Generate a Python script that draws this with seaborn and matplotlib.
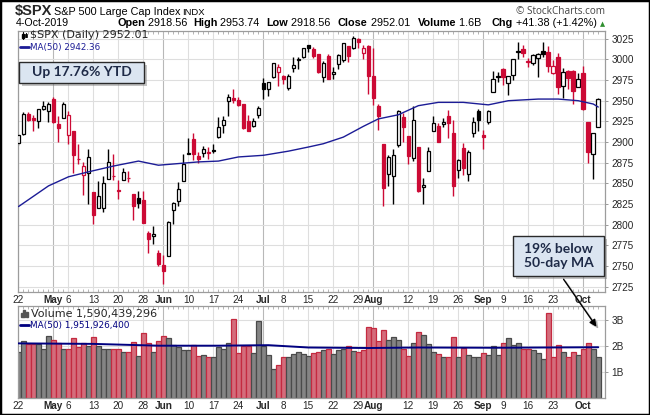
import numpy as np
import pandas as pd
import matplotlib
matplotlib.use("Agg")
import matplotlib.pyplot as plt
from matplotlib.patches import Rectangle, FancyArrowPatch
from matplotlib.lines import Line2D
import seaborn as sns

# --- style ---
sns.set_style("white")
plt.rcParams["font.family"] = ["Liberation Sans", "DejaVu Sans"]

# --- data: $SPX daily, 22-Apr-2019 .. 4-Oct-2019 ---
dates = ["04-22", "04-23", "04-24", "04-25", "04-26", "04-29", "04-30",
         "05-01", "05-02", "05-03", "05-06", "05-07", "05-08", "05-09", "05-10", "05-13", "05-14",
         "05-15", "05-16", "05-17", "05-20", "05-21", "05-22", "05-23", "05-24", "05-28", "05-29",
         "05-30", "05-31",
         "06-03", "06-04", "06-05", "06-06", "06-07", "06-10", "06-11", "06-12", "06-13", "06-14",
         "06-17", "06-18", "06-19", "06-20", "06-21", "06-24", "06-25", "06-26", "06-27", "06-28",
         "07-01", "07-02", "07-03", "07-05", "07-08", "07-09", "07-10", "07-11", "07-12", "07-15",
         "07-16", "07-17", "07-18", "07-19", "07-22", "07-23", "07-24", "07-25", "07-26", "07-29",
         "07-30", "07-31",
         "08-01", "08-02", "08-05", "08-06", "08-07", "08-08", "08-09", "08-12", "08-13", "08-14",
         "08-15", "08-16", "08-19", "08-20", "08-21", "08-22", "08-23", "08-26", "08-27", "08-28",
         "08-29", "08-30",
         "09-03", "09-04", "09-05", "09-06", "09-09", "09-10", "09-11", "09-12", "09-13", "09-16",
         "09-17", "09-18", "09-19", "09-20", "09-23", "09-24", "09-25", "09-26", "09-27", "09-30",
         "10-01", "10-02", "10-03", "10-04"]

opens = [2898.78, 2909.99, 2934.00, 2928.99, 2925.81, 2940.58, 2937.14,
         2952.33, 2922.16, 2929.21, 2908.89, 2913.03, 2879.61, 2859.84, 2863.10, 2840.19, 2820.12,
         2820.38, 2855.80, 2858.60, 2841.94, 2854.02, 2856.06, 2836.70, 2832.41, 2830.03, 2790.25,
         2786.94, 2766.15,
         2751.53, 2762.64, 2818.09, 2828.51, 2852.87, 2885.83, 2903.27, 2882.73, 2886.24, 2886.82,
         2889.75, 2906.71, 2920.55, 2949.60, 2952.71, 2951.42, 2945.78, 2926.07, 2919.66, 2932.94,
         2971.41, 2964.66, 2978.08, 2984.25, 2979.77, 2965.52, 2989.30, 2999.62, 3003.36, 3017.80,
         3012.13, 3006.46, 2978.87, 3004.26, 2981.93, 2994.74, 2998.77, 3016.26, 3013.25, 3024.47,
         3007.66, 3016.22,
         2980.32, 2943.90, 2898.07, 2861.18, 2858.65, 2896.21, 2930.51, 2907.07, 2880.72, 2894.15,
         2846.20, 2864.74, 2913.48, 2919.01, 2922.04, 2930.94, 2911.07, 2866.70, 2893.14, 2861.28,
         2910.37, 2937.09,
         2909.01, 2924.67, 2960.60, 2980.33, 2988.43, 2971.01, 2981.41, 3009.08, 3012.21, 2996.41,
         2995.67, 3001.50, 3010.36, 3008.42, 2983.50, 3002.43, 2968.35, 2985.73, 2985.47, 2967.07,
         2983.69, 2924.78, 2885.38, 2918.56]

highs = [2909.51, 2936.31, 2936.83, 2933.10, 2939.88, 2949.52, 2948.22,
         2954.13, 2931.68, 2947.85, 2937.32, 2913.03, 2897.96, 2875.97, 2891.31, 2840.19, 2852.54,
         2858.68, 2892.15, 2885.48, 2853.86, 2868.88, 2865.47, 2836.70, 2841.36, 2840.51, 2792.03,
         2799.00, 2768.98,
         2763.07, 2804.49, 2827.28, 2852.10, 2884.97, 2904.77, 2910.61, 2888.57, 2895.24, 2894.45,
         2897.27, 2930.79, 2931.74, 2958.06, 2964.15, 2954.92, 2946.52, 2932.59, 2929.30, 2943.98,
         2977.93, 2973.21, 2995.84, 2994.03, 2980.76, 2981.90, 3002.98, 3002.33, 3013.92, 3017.80,
         3015.02, 3006.46, 2998.28, 3006.02, 2990.71, 3005.90, 3019.59, 3016.31, 3027.98, 3025.61,
         3017.19, 3017.40,
         3013.59, 2945.50, 2898.07, 2884.40, 2892.17, 2938.72, 2935.75, 2907.58, 2943.31, 2894.15,
         2856.67, 2893.63, 2931.00, 2923.63, 2928.73, 2939.08, 2927.01, 2879.27, 2898.79, 2890.03,
         2930.50, 2940.43,
         2914.39, 2938.84, 2985.86, 2985.03, 2989.43, 2979.39, 3000.93, 3020.74, 3017.33, 3002.19,
         3006.21, 3007.83, 3021.19, 3016.37, 2999.15, 3007.98, 2989.82, 2987.28, 2987.31, 2983.85,
         2992.53, 2924.78, 2911.13, 2953.74]

lows = [2896.35, 2908.53, 2926.05, 2912.84, 2917.56, 2939.35, 2924.11,
        2923.36, 2900.50, 2929.21, 2898.21, 2862.60, 2873.28, 2836.40, 2825.39, 2801.43, 2820.12,
        2815.08, 2855.80, 2854.23, 2831.29, 2854.02, 2851.11, 2805.49, 2820.19, 2801.58, 2766.06,
        2776.74, 2750.52,
        2728.81, 2762.64, 2800.92, 2822.45, 2852.87, 2885.51, 2878.53, 2874.68, 2881.99, 2879.62,
        2887.30, 2905.44, 2911.43, 2931.50, 2946.87, 2944.05, 2916.01, 2912.99, 2918.57, 2929.05,
        2952.22, 2955.92, 2977.96, 2967.97, 2970.09, 2963.44, 2984.62, 2988.80, 3001.87, 3008.77,
        3001.15, 2983.92, 2973.09, 2975.86, 2976.65, 2988.56, 2996.82, 2997.24, 3012.59, 3014.30,
        3000.94, 2958.08,
        2945.23, 2914.11, 2822.12, 2847.42, 2825.71, 2894.47, 2900.15, 2873.14, 2877.05, 2839.64,
        2825.51, 2864.74, 2913.48, 2899.60, 2917.91, 2904.51, 2834.97, 2856.00, 2860.59, 2853.05,
        2905.67, 2913.32,
        2891.85, 2921.86, 2960.60, 2972.51, 2969.39, 2957.01, 2975.31, 3000.92, 3002.90, 2990.67,
        2993.73, 2978.57, 3003.16, 2984.68, 2982.23, 2957.73, 2952.86, 2963.71, 2945.53, 2967.07,
        2938.70, 2874.93, 2855.94, 2918.56]

closes = [2907.97, 2933.68, 2927.25, 2926.17, 2939.88, 2943.03, 2945.83,
          2923.73, 2917.52, 2945.64, 2932.47, 2884.05, 2879.42, 2870.72, 2881.40, 2811.87, 2834.41,
          2850.96, 2876.32, 2859.53, 2840.23, 2864.36, 2856.27, 2822.24, 2826.06, 2802.39, 2783.02,
          2788.86, 2752.06,
          2744.45, 2803.27, 2826.15, 2843.49, 2873.34, 2886.73, 2885.72, 2879.84, 2891.64, 2886.98,
          2889.67, 2917.75, 2926.46, 2954.18, 2950.46, 2945.35, 2917.38, 2913.78, 2924.92, 2941.76,
          2964.33, 2973.01, 2995.82, 2990.41, 2975.95, 2979.63, 2993.07, 2999.91, 3013.77, 3014.30,
          3004.04, 2984.42, 2995.11, 2976.61, 2985.03, 3005.47, 3019.56, 3003.67, 3025.86, 3020.97,
          3013.18, 2980.38,
          2953.56, 2932.05, 2844.74, 2881.77, 2883.98, 2938.09, 2918.65, 2882.70, 2926.32, 2840.60,
          2847.60, 2888.68, 2923.65, 2900.51, 2924.43, 2922.95, 2847.11, 2878.38, 2869.16, 2887.94,
          2924.58, 2926.46,
          2906.27, 2937.78, 2976.00, 2978.71, 2978.43, 2979.39, 3000.93, 3009.57, 3007.39, 2997.96,
          3005.70, 3006.73, 3006.79, 2992.07, 2991.78, 2966.60, 2984.87, 2977.62, 2961.79, 2976.74,
          2940.25, 2887.61, 2910.63, 2952.01]
prev_close = 2905.03  # 18-Apr close, colours the first candle

# volume in billions
volume_b = [1.76, 2.18, 2.09, 2.09, 2.09, 1.87, 2.38,
            2.22, 2.13, 1.87, 1.87, 2.29, 1.94, 2.10, 2.01, 2.33, 1.98, 1.87, 1.90, 1.87, 1.89,
            1.78, 1.78, 2.16, 1.60, 2.49, 2.11, 1.75, 2.18,
            2.38, 2.29, 2.03, 1.94, 1.83, 1.83, 2.03, 1.60, 1.65, 1.56, 1.56, 1.97, 1.87, 2.10,
            3.03, 1.71, 2.01, 2.01, 1.71, 2.95,
            2.01, 1.63, 1.09, 1.28, 1.56, 1.58, 1.69, 1.75, 1.67, 1.60, 1.71, 1.75, 1.84, 1.87,
            1.69, 1.85, 1.90, 1.98, 1.79, 1.75, 1.84, 2.72,
            2.68, 2.18, 2.60, 2.22, 2.33, 2.22, 1.87, 1.60, 2.10, 2.53, 2.42, 2.07, 1.75, 1.67,
            1.56, 1.56, 2.33, 1.58, 1.93, 1.63, 1.58, 1.58,
            1.71, 1.63, 1.98, 1.63, 2.10, 2.29, 2.02, 2.10, 1.87, 1.87, 1.83, 1.71, 1.50, 3.26,
            1.56, 2.02, 1.75, 1.56, 1.75, 1.63,
            1.87, 2.13, 1.87, 1.59]

# 50-day moving averages at these dates
ma_dates = ["04-22", "04-30", "05-06", "05-10", "05-17", "05-24", "05-31", "06-06", "06-12",
            "06-18", "06-24", "07-01", "07-09", "07-15", "07-18", "07-24", "07-30", "08-02",
            "08-08", "08-14", "08-20", "08-27", "09-04", "09-10", "09-18", "09-24", "09-30",
            "10-03", "10-04"]
ma_price = [2822, 2847, 2858, 2864, 2871, 2877, 2872, 2874, 2876, 2877, 2882, 2884, 2889,
            2894, 2898, 2906, 2919, 2928, 2933, 2944, 2948, 2948, 2945, 2950, 2952, 2952,
            2950, 2946, 2942.36]
vma_dates = ["04-22", "05-13", "05-31", "06-18", "07-02", "07-15", "07-31", "08-14", "09-05",
             "09-19", "10-04"]
vma_vals = [2.10, 2.08, 2.01, 2.01, 2.03, 1.94, 1.92, 1.94, 1.93, 1.94, 1.95]

tick_dates = ["04-22", "05-01", "05-06", "05-13", "05-20", "05-28", "06-03", "06-10", "06-17",
              "06-24", "07-01", "07-08", "07-15", "07-22", "07-29", "08-01", "08-12", "08-19",
              "08-26", "09-03", "09-09", "09-16", "09-23", "10-01"]
tick_labels = ["22", "May", "6", "13", "20", "28", "Jun", "10", "17", "24", "Jul", "8", "15",
               "22", "29", "Aug", "12", "19", "26", "Sep", "9", "16", "23", "Oct"]
price_ticks = [2725, 2750, 2775, 2800, 2825, 2850, 2875, 2900, 2925, 2950, 2975, 3000, 3025]
vol_ticks = [1, 2, 3]
vol_tick_labels = ["1B", "2B", "3B"]

# --- frame ---
df = pd.DataFrame({"date": dates, "open": opens, "high": highs, "low": lows,
                   "close": closes, "vol": volume_b})
df["x"] = np.arange(len(df))
df["prev"] = [prev_close] + closes[:-1]
df["down"] = df["close"] < df["prev"]
df["hollow"] = df["close"] > df["open"]
pos = {d: i for i, d in enumerate(dates)}

RED = "#cc0a35"
NAVY = "#1c1c96"
W, H = 650, 415

def fx(p):
    return p / W

def fy(p):
    return 1 - p / H

fig = plt.figure(figsize=(W / 100, H / 100), dpi=100)
ax = fig.add_axes([fx(17.5), fy(292), (605 - 17.5) / W, (292 - 31) / H])
axv = fig.add_axes([fx(17.5), fy(397.5), (605 - 17.5) / W, (397.5 - 306) / H])

tick_pos = [pos[d] for d in tick_dates]

# grid
for a in (ax, axv):
    for p, lab in zip(tick_pos, tick_labels):
        a.axvline(p, color="#b8b8b8" if lab.isalpha() else "#dedede", lw=0.8, zorder=0)
for v in price_ticks:
    ax.axhline(v, color="#dedede", lw=0.8, zorder=0)
for v in vol_ticks:
    axv.axhline(v, color="#dedede", lw=0.8, zorder=0)

# --- candles ---
edge = np.where(df["down"], RED, "black")
face = np.where(df["hollow"], "white", edge)
body_lo = np.minimum(df["open"], df["close"])
body_h = np.maximum((df["close"] - df["open"]).abs(), 0.6)
ax.vlines(df["x"], df["low"], df["high"], colors=edge, lw=1.0, zorder=2)
ax.bar(df["x"], body_h, bottom=body_lo, width=0.72, color=face, edgecolor=edge,
       linewidth=0.9, zorder=3)

sns.lineplot(x=[pos[d] for d in ma_dates], y=ma_price, ax=ax, color=NAVY, lw=1.0, zorder=4)

# --- volume ---
vfill = np.where(df["down"], "#d46c7b", "#848484")
vedge = np.where(df["down"], "#c42a40", "#4a4a4a")
axv.bar(df["x"], df["vol"], width=0.92, color=vfill, edgecolor=vedge, linewidth=0.9, zorder=2)
sns.lineplot(x=[pos[d] for d in vma_dates], y=vma_vals, ax=axv, color="#000080", lw=1.4, zorder=4)

# --- axes ---
for a in (ax, axv):
    a.set_xlim(-0.2, 117.35)
    a.set_xticks(tick_pos)
    a.set_xticklabels(tick_labels)
    for t, lab in zip(a.get_xticklabels(), tick_labels):
        if lab.isalpha():
            t.set_fontweight("bold")
            t.set_fontsize(7.5)
    a.set_xticks(df["x"], minor=True)
    a.tick_params(axis="x", which="major", length=0, pad=2.5, labelsize=7.2)
    a.tick_params(axis="x", which="minor", direction="in", length=2, width=0.6,
                  color="#a8a8a8", top=True, bottom=True)
    a.yaxis.tick_right()
    a.tick_params(axis="y", length=2.5, width=0.6, color="#888888", pad=2, labelsize=7.2)
    a.set_xlabel("")
    a.set_ylabel("")
    for s in a.spines.values():
        s.set_color("#9c9c9c")
        s.set_linewidth(0.9)

ax.set_ylim(2718.7, 3034.3)
ax.set_yticks(price_ticks)
axv.set_ylim(0, 3.55)
axv.set_yticks(vol_ticks)
axv.set_yticklabels(vol_tick_labels)

# --- header ---
fig.canvas.draw()
rend = fig.canvas.get_renderer()

def seq(x, y, parts, size=7.8, color="black", family=None):
    for s, bold in parts:
        t = fig.text(fx(x), fy(y), s, fontsize=size, fontweight="bold" if bold else "normal",
                     color=color, va="baseline", ha="left",
                     family=family if family else ["Liberation Sans", "DejaVu Sans"])
        x += t.get_window_extent(rend).width
    return x

fig.text(fx(15), fy(14.7), r"\$SPX", fontsize=10.5, fontweight="bold", va="baseline")
seq(54, 14.7, [("S&P 500 Large Cap Index", False)], size=7.8)
seq(182, 14.7, [("INDX", False)], size=6.8)
fig.text(fx(605), fy(13.5), "\u00a9 StockCharts.com", fontsize=7.2, color="#444444",
         ha="right", va="baseline", family=["Open Sans", "DejaVu Sans"])

seq(16, 26.5, [("4-Oct-2019", False)], size=7.7)
seq(117, 26.5, [("Open", True), (" 2918.56", False)])
seq(193, 26.5, [("High", True), (" 2953.74", False)])
seq(266, 26.5, [("Low", True), (" 2918.56", False)])
seq(338, 26.5, [("Close", True), (" 2952.01", False)])
seq(418, 26.5, [("Volume", True), (" 1.6B", False)])
seq(492, 26.5, [("Chg", True), (" +41.38 (+1.42%)", False)])
fig.text(fx(603), fy(26), "\u25b2", fontsize=4.8, color="#2f8f2f", ha="center", va="baseline",
         family="DejaVu Sans")

# --- panel legends ---
for xx, y0, y1, c in [(22.5, 32, 39.5, "black"), (25.5, 33.5, 37.5, "black")]:
    fig.add_artist(Line2D([fx(xx), fx(xx)], [fy(y0), fy(y1)], color=c, lw=0.8))
fig.add_artist(Rectangle((fx(21.5), fy(38)), 2 / W, 4 / H, color="black"))
fig.add_artist(Rectangle((fx(24.5), fy(37)), 2 / W, 3 / H, facecolor="white", edgecolor="black", lw=0.6))
fig.text(fx(30), fy(38.5), r"\$SPX (Daily) 2952.01", fontsize=8.0, va="baseline",
         family="DejaVu Sans")
fig.add_artist(Line2D([fx(20), fx(28.5)], [fy(47), fy(47)], color=NAVY, lw=2))
fig.text(fx(30), fy(50), "MA(50) 2942.36", fontsize=6.3, color=NAVY, va="baseline",
         family="DejaVu Sans")

for i, hh in enumerate([4, 7, 5.5]):
    fig.add_artist(Rectangle((fx(20.5 + 2.6 * i), fy(317)), 2 / W, hh / H, color="#555555"))
fig.text(fx(31), fy(316.5), "Volume 1,590,439,296", fontsize=8.0, va="baseline",
         family="DejaVu Sans")
fig.add_artist(Line2D([fx(19.5), fx(28.5)], [fy(325), fy(325)], color="#000080", lw=2))
fig.text(fx(29.5), fy(328), "MA(50) 1,951,926,400", fontsize=6.4, color="#000080",
         va="baseline", family="DejaVu Sans")

# --- callout boxes ---
def callout(x0, y0, x1, y1, text):
    fig.add_artist(Rectangle((fx(x0 + 3), fy(y1 + 3)), (x1 - x0) / W, (y1 - y0) / H,
                             facecolor="#7a7a7a", edgecolor="none", alpha=0.45, zorder=5))
    fig.add_artist(Rectangle((fx(x0), fy(y1)), (x1 - x0) / W, (y1 - y0) / H,
                             facecolor="#dbe5f1", edgecolor="#2a2a2a", lw=1.0, zorder=6))
    fig.text(fx((x0 + x1) / 2), fy((y0 + y1) / 2), text, ha="center", va="center",
             fontsize=10, fontweight="bold", color="#1e2a47", linespacing=1.25,
             family=["Lato", "DejaVu Sans"], zorder=7)

callout(19, 62, 144, 83, "Up 17.76% YTD")
callout(513, 236, 604, 276, "19% below\n50-day MA")

fig.add_artist(FancyArrowPatch((fx(564), fy(279)), (fx(600), fy(331)), transform=fig.transFigure,
                               arrowstyle="-|>", mutation_scale=10, color="#999999", lw=1.0,
                               alpha=0.6, zorder=5))
fig.add_artist(FancyArrowPatch((fx(562), fy(277)), (fx(598), fy(329)), transform=fig.transFigure,
                               arrowstyle="-|>", mutation_scale=10, color="black", lw=1.0,
                               zorder=6))

# outer frame
fig.add_artist(Rectangle((0, 0), 1, 1, transform=fig.transFigure, fill=False,
                         edgecolor="black", lw=2.5, zorder=10))

fig.savefig("out.png", dpi=100)
